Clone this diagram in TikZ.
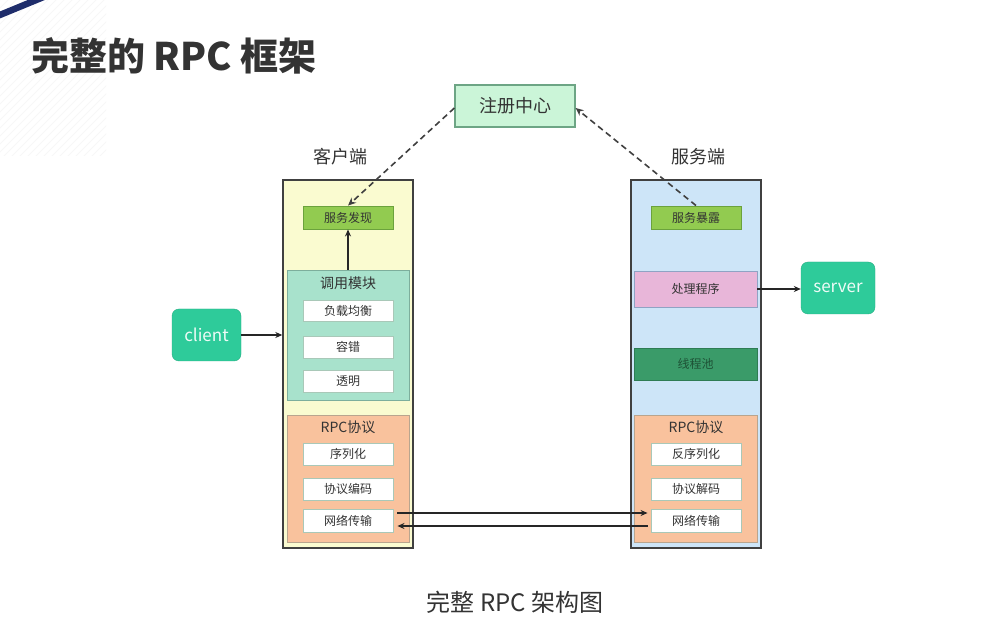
\documentclass[tikz,border=0pt]{standalone}
\usepackage{fontspec}
\setmainfont{Noto Sans CJK SC}
\usetikzlibrary{arrows.meta}
\definecolor{txt}{HTML}{333333}
\definecolor{navy}{HTML}{1F2D6B}
\definecolor{cyel}{HTML}{FAFBD0}
\definecolor{sblue}{HTML}{CDE5F8}
\definecolor{lgreen}{HTML}{92CB50}
\definecolor{lgreenb}{HTML}{6BA23C}
\definecolor{teal}{HTML}{A8E2CC}
\definecolor{tealb}{HTML}{7DAE9C}
\definecolor{salmon}{HTML}{F9C29D}
\definecolor{salmonb}{HTML}{B9A58E}
\definecolor{pink}{HTML}{E8B6D9}
\definecolor{pinkb}{HTML}{8FA3C4}
\definecolor{dgreen}{HTML}{3A9B69}
\definecolor{dgreent}{HTML}{1E5236}
\definecolor{regf}{HTML}{CBF5D8}
\definecolor{regb}{HTML}{6DA585}
\definecolor{mint}{HTML}{2ECB9A}
\definecolor{whiteb}{HTML}{A9C8B8}
\tikzset{
  box/.style={draw, inner sep=0pt, text=txt, font=\fontsize{12}{12}\selectfont},
  outer/.style={box, draw=black!75, line width=1.4pt},
  wbox/.style={box, fill=white, draw=whiteb, line width=0.9pt, minimum width=90pt},
  grp/.style={box, line width=0.9pt},
  grplabel/.style={inner sep=0pt, text=txt, font=\fontsize{14}{14}\selectfont},
  pill/.style={draw=mint!85!black, fill=mint, rounded corners=7pt, inner sep=0pt, text=white!92!mint, font=\fontsize{17}{17}\selectfont},
  arr/.style={-{Stealth[length=7pt,width=6pt]}, line width=1.2pt, draw=black!85},
  darr/.style={-{Stealth[length=8pt,width=7pt]}, line width=1.6pt, draw=black!75, dash pattern=on 6pt off 4pt},
  side/.style={inner sep=0pt, text=txt, font=\fontsize{18}{18}\selectfont}
}
\begin{document}
\begin{tikzpicture}[x=1pt,y=-1pt]
\useasboundingbox (0,0) rectangle (991,644);
\fill[white] (0,0) rectangle (991,644);
% decorative corner
\begin{scope}
\clip (0,0) rectangle (106,156);
\foreach \i in {0,8,...,270} {
  \draw[black!3, line width=0.8pt] (\i-160,160) -- (\i,0);
}
\end{scope}
\begin{scope}
\clip (0,0) rectangle (991,644);
\draw[navy, line width=6.5pt] (-5,17) -- (46,-4);
\end{scope}
% title
\node[anchor=west, inner sep=0pt, text=txt, font=\fontsize{38}{38}\selectfont\bfseries] (title) at (31,56) {完整的 RPC 框架};
% registry
\node[box, fill=regf, draw=regb, line width=1.2pt, minimum width=120pt, minimum height=42pt, font=\fontsize{18}{18}\selectfont] (reg) at (515,106) {注册中心};
% side labels
\node[side] (clab) at (340,157) {客户端};
\node[side] (slab) at (698,157) {服务端};
% outer boxes
\node[outer, fill=cyel, minimum width=130pt, minimum height=368pt] (cbox) at (348,364) {};
\node[outer, fill=sblue, minimum width=130pt, minimum height=368pt] (sbox) at (696,364) {};
% client side
\node[grp, fill=lgreen, draw=lgreenb, minimum width=90pt, minimum height=23pt] (disc) at (348,217.5) {服务发现};
\node[grp, fill=teal, draw=tealb, minimum width=122pt, minimum height=130pt] (call) at (348,335) {};
\node[grplabel] (calllab) at (348,283) {调用模块};
\node[wbox, minimum height=21pt] (lb) at (348,310.5) {负载均衡};
\node[wbox, minimum height=22pt] (ft) at (348,347) {容错};
\node[wbox, minimum height=22pt] (tr) at (348,381) {透明};
\node[grp, fill=salmon, draw=salmonb, minimum width=122pt, minimum height=127pt] (crpc) at (348,478.5) {};
\node[grplabel] (crpclab) at (348,427) {RPC协议};
\node[wbox, minimum height=22pt] (ser) at (348,454) {序列化};
\node[wbox, minimum height=22pt] (enc) at (348,489) {协议编码};
\node[wbox, minimum height=23pt] (cnet) at (348,520.5) {网络传输};
% server side
\node[grp, fill=lgreen, draw=lgreenb, minimum width=90pt, minimum height=23pt] (expo) at (696,217.5) {服务暴露};
\node[grp, fill=pink, draw=pinkb, minimum width=123pt, minimum height=36pt] (hdl) at (695.5,289) {处理程序};
\node[grp, fill=dgreen, draw=dgreen!80!black, minimum width=123pt, minimum height=32pt, text=dgreent] (pool) at (695.5,364) {线程池};
\node[grp, fill=salmon, draw=salmonb, minimum width=123pt, minimum height=127pt] (srpc) at (695.5,478.5) {};
\node[grplabel] (srpclab) at (696,427) {RPC协议};
\node[wbox, minimum height=22pt] (deser) at (696,454) {反序列化};
\node[wbox, minimum height=22pt] (dec) at (696,489) {协议解码};
\node[wbox, minimum height=23pt] (snet) at (696,520.5) {网络传输};
% client / server pills
\node[pill, minimum width=69pt, minimum height=52pt] (client) at (206.5,335) {client};
\node[pill, minimum width=74pt, minimum height=52pt] (server) at (838,288) {server};
% connectors
\draw[arr] (client.east) -- (client.east -| cbox.west);
\draw[arr] (call.north) -- (disc.south);
\draw[arr] (hdl.east) -- (hdl.east -| server.west);
\draw[darr] ([yshift=-2pt]reg.west) -- (disc.north);
\draw[darr] (expo.north) -- ([yshift=-2pt]reg.east);
\draw[arr] ([xshift=4pt,yshift=7.5pt]cnet.east) -- ([xshift=-3pt,yshift=7.5pt]snet.west);
\draw[arr] ([xshift=-3pt,yshift=-5.5pt]snet.west) -- ([xshift=4pt,yshift=-5.5pt]cnet.east);
% caption
\node[inner sep=0pt, text=txt, font=\fontsize{24}{24}\selectfont] (cap) at (515,602) {完整 RPC 架构图};
\end{tikzpicture}
\end{document}
